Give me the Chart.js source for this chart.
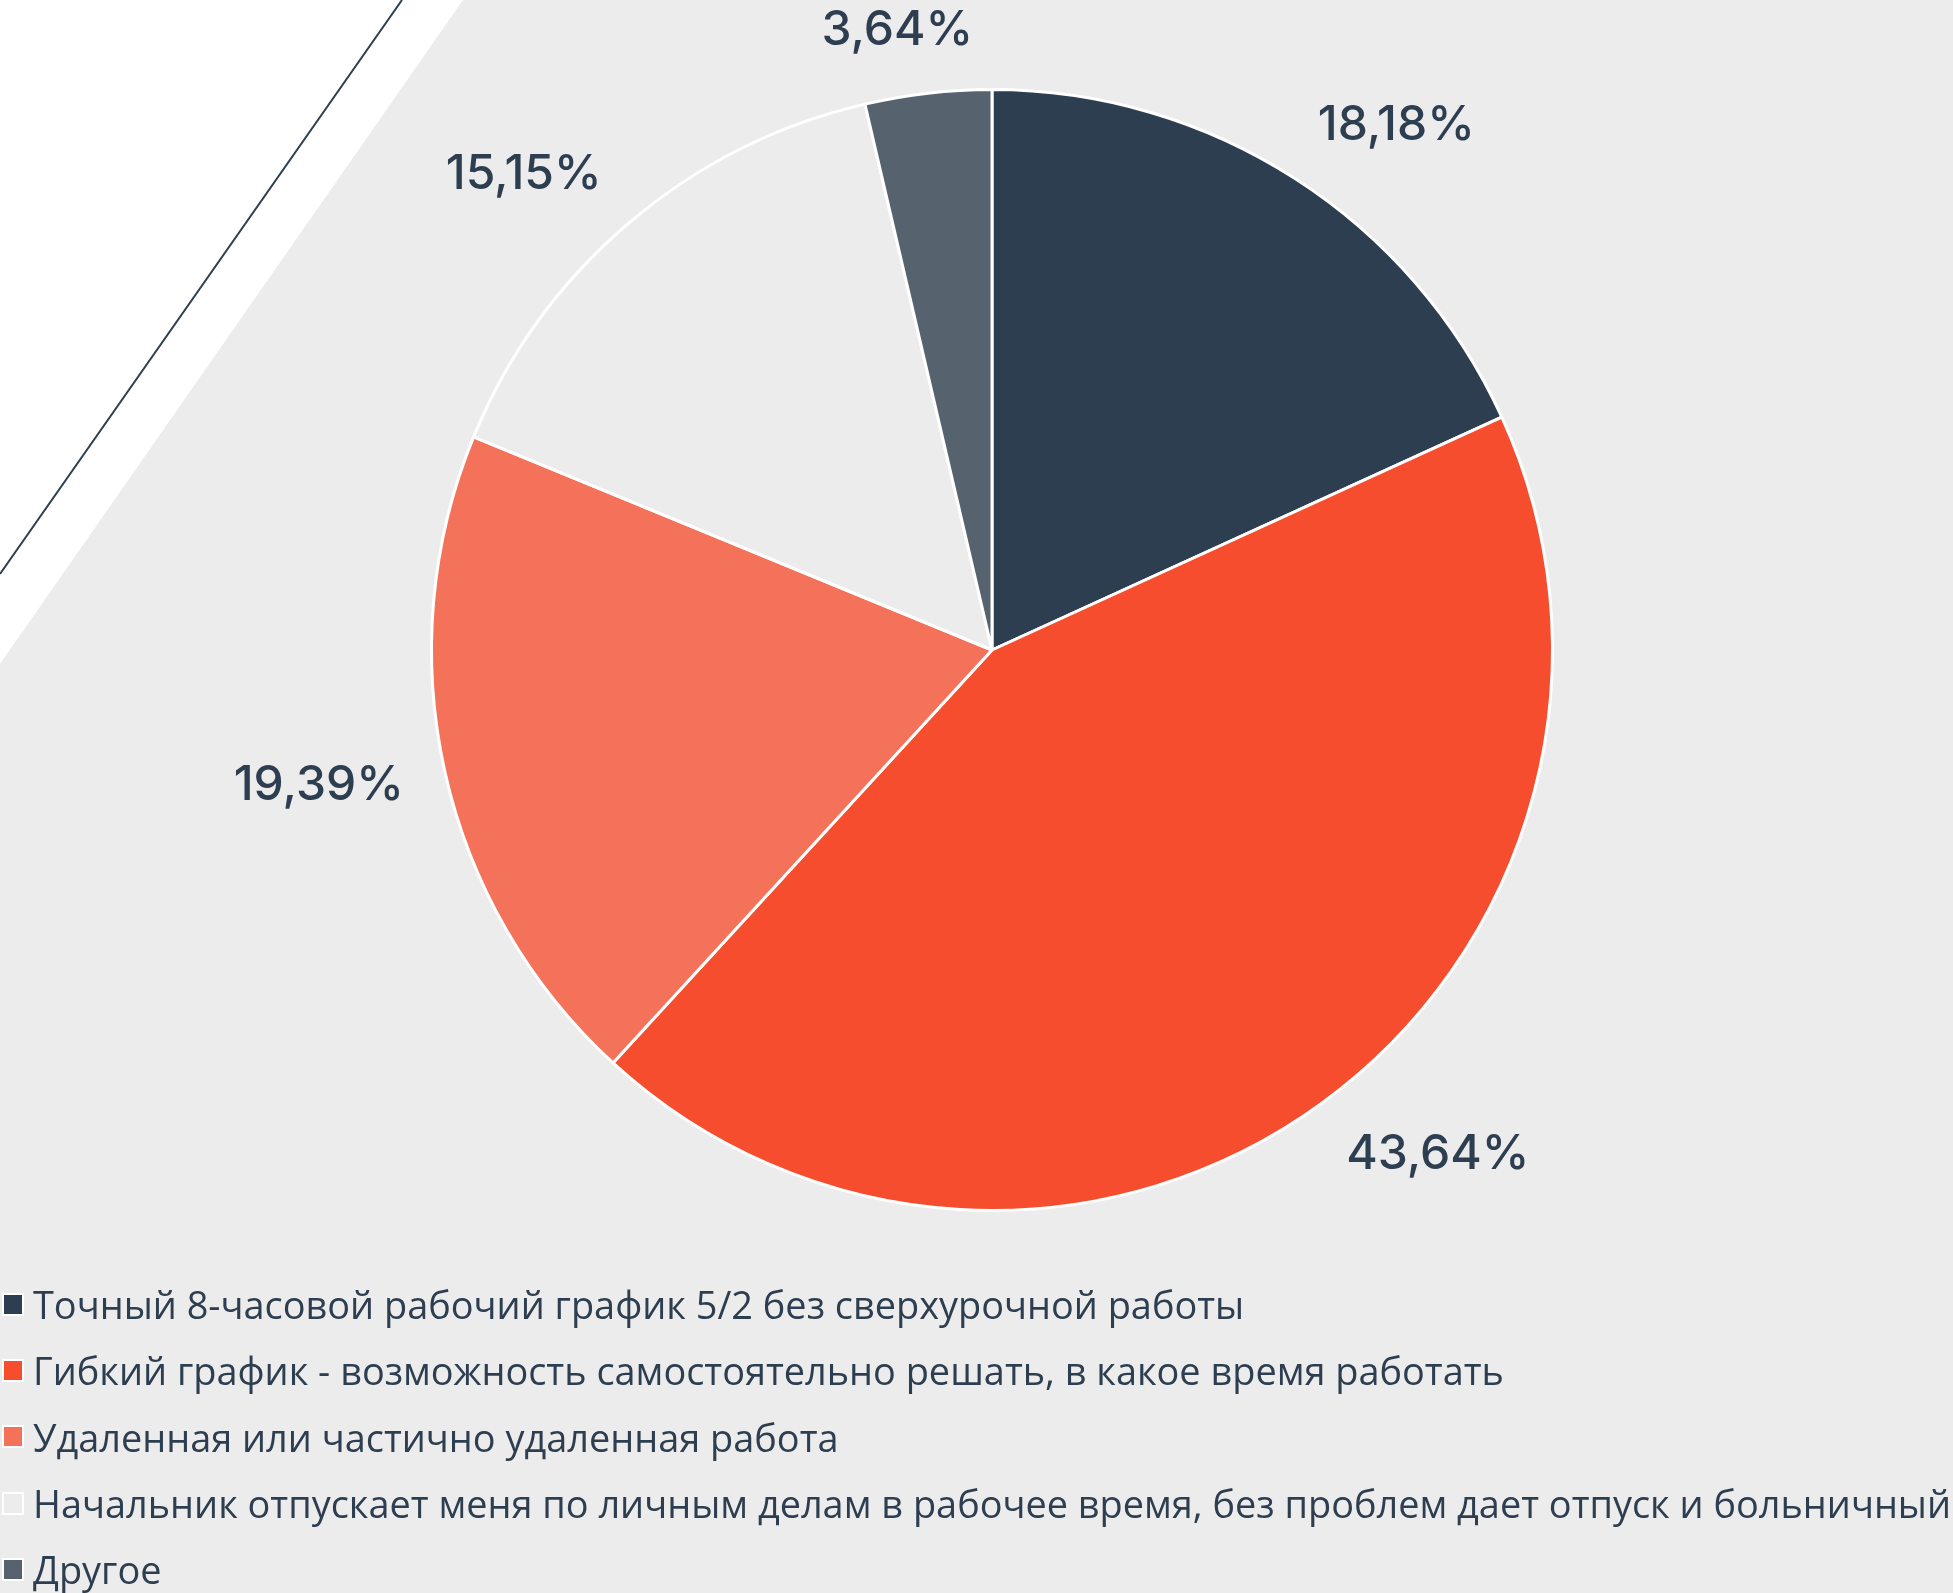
<!DOCTYPE html>
<html>
<head>
<meta charset="utf-8">
<script src="https://cdn.jsdelivr.net/npm/chart.js"></script>
<style>
  html, body { margin: 0; padding: 0; background: #ececec; }
  #wrap { position: relative; width: 1953px; height: 1593px; overflow: hidden; }
  #legend { position: absolute; left: 0; top: 1271px; font-family: "Open Sans", sans-serif; font-size: 37.9px; color: #2d3e50; }
  .item { display: flex; align-items: center; height: 66.3px; white-space: nowrap; }
  .box { width: 18px; height: 19px; border: 2px solid #fff; margin-left: 2px; margin-right: 9px; flex: none; }
</style>
</head>
<body>
<div id="wrap">
  <canvas id="pie" width="1953" height="1593"></canvas>
  <div id="legend"></div>
</div>
<script>
const categories = [
  'Точный 8-часовой рабочий график 5/2 без сверхурочной работы',
  'Гибкий график - возможность самостоятельно решать, в какое время работать',
  'Удаленная или частично удаленная работа',
  'Начальник отпускает меня по личным делам в рабочее время, без проблем дает отпуск и больничный',
  'Другое'
];
const shares = [18.18, 43.64, 19.39, 15.15, 3.64];
const sliceColors = ['#2d3e50', '#f54d2e', '#f5725a', '#ececec', '#56636f'];

const textColor = '#2d3e50';
const fmt = v => v.toFixed(2).replace('.', ',') + '%';

// light grey page with a white corner and a thin dark stripe
const decor = {
  id: 'decor',
  beforeDraw(chart) {
    const ctx = chart.ctx;
    ctx.save();
    ctx.fillStyle = '#ececec';
    ctx.fillRect(0, 0, chart.width, chart.height);
    ctx.fillStyle = '#ffffff';
    ctx.beginPath();
    ctx.moveTo(0, 0);
    ctx.lineTo(463, 0);
    ctx.lineTo(0, 664);
    ctx.closePath();
    ctx.fill();
    ctx.strokeStyle = '#2d3e50';
    ctx.lineWidth = 2;
    ctx.beginPath();
    ctx.moveTo(402, 0);
    ctx.lineTo(0, 574);
    ctx.stroke();
    ctx.restore();
  }
};

// percentage labels outside each slice
const outerLabels = {
  id: 'outerLabels',
  afterDatasetsDraw(chart) {
    const ctx = chart.ctx;
    const meta = chart.getDatasetMeta(0);
    ctx.save();
    ctx.font = '500 48px Inter, sans-serif';
    ctx.fillStyle = textColor;
    ctx.textBaseline = 'middle';
    ctx.textAlign = 'center';
    meta.data.forEach((arc, i) => {
      const p = arc.getProps(['x', 'y', 'startAngle', 'endAngle', 'outerRadius'], true);
      const mid = (p.startAngle + p.endAngle) / 2;
      const cos = Math.cos(mid);
      const txt = fmt(shares[i]);
      const w = ctx.measureText(txt).width;
      const shift = Math.max(-1, Math.min(1, cos * 3)) * w / 2;
      const x = p.x + cos * (p.outerRadius + 42) + shift;
      const y = p.y + Math.sin(mid) * (p.outerRadius + 63);
      ctx.fillText(txt, x, y);
    });
    ctx.restore();
  }
};

new Chart(document.getElementById('pie'), {
  type: 'pie',
  data: {
    labels: categories,
    datasets: [{
      data: shares,
      backgroundColor: sliceColors,
      borderColor: '#ffffff',
      borderWidth: 3
    }]
  },
  options: {
    responsive: false,
    animation: false,
    layout: { padding: { top: 88, bottom: 381, left: 31, right: 0 } },
    plugins: {
      legend: { display: false },
      tooltip: { enabled: false }
    }
  },
  plugins: [decor, outerLabels]
});

const legend = document.getElementById('legend');
categories.forEach((name, i) => {
  const row = document.createElement('div');
  row.className = 'item';
  row.innerHTML = `<span class="box" style="background:${sliceColors[i]}"></span><span>${name}</span>`;
  legend.appendChild(row);
});
</script>
</body>
</html>
